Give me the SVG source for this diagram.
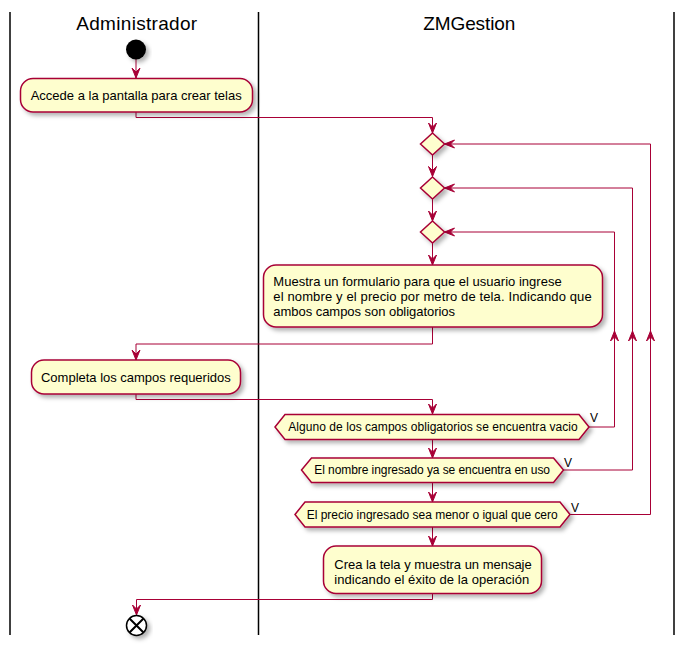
<svg xmlns="http://www.w3.org/2000/svg" width="685" height="645" viewBox="0 0 685 645">
<defs>
<filter id="sh" x="-20%" y="-20%" width="150%" height="160%">
<feDropShadow dx="3" dy="3" stdDeviation="2" flood-color="#000" flood-opacity="0.3"/>
</filter>
<style>
.lane{stroke:#000;stroke-width:1.5;fill:none}
.title{font-family:"Liberation Sans",Arial,sans-serif;font-size:19px;fill:#000;text-anchor:middle}
.box{fill:#FEFECE;stroke:#A80036;stroke-width:1.5;filter:url(#sh)}
.t{font-family:"Liberation Sans",Arial,sans-serif;font-size:13px;fill:#000}
.ht{font-family:"Liberation Sans",Arial,sans-serif;font-size:12px;fill:#000;text-anchor:middle}
.v{font-family:"Liberation Sans",Arial,sans-serif;font-size:12px;fill:#000}
.ln{stroke:#A80036;stroke-width:1;fill:none}
.ah{fill:#A80036;stroke:#A80036;stroke-width:1}
</style>
</defs>
<rect width="685" height="645" fill="#fff"/>
<g id="lanes">
<line class="lane" x1="10" y1="12" x2="10" y2="635"/>
<line class="lane" x1="258.5" y1="12" x2="258.5" y2="635"/>
<line class="lane" x1="674" y1="12" x2="674" y2="635"/>
<text class="title" x="136.7" y="30" textLength="121">Administrador</text>
<text class="title" x="469.3" y="30" textLength="92">ZMGestion</text>
</g>
<g id="connectors">
<path class="ln" d="M136,59 V78"/>
<path class="ah" d="M136,78 L132,68 L136,72 L140,68 Z"/>
<path class="ln" d="M136,112 V117.5 H432.5 V133"/>
<path class="ah" d="M432.5,133 L428.5,123 L432.5,127 L436.5,123 Z"/>
<path class="ln" d="M432.5,155 V176.5"/>
<path class="ah" d="M432.5,176.5 L428.5,166.5 L432.5,170.5 L436.5,166.5 Z"/>
<path class="ln" d="M432.5,199 V221"/>
<path class="ah" d="M432.5,221 L428.5,211 L432.5,215 L436.5,211 Z"/>
<path class="ln" d="M432.5,243 V265"/>
<path class="ah" d="M432.5,265 L428.5,255 L432.5,259 L436.5,255 Z"/>
<path class="ln" d="M432.5,327 V344 H136 V360"/>
<path class="ah" d="M136,360 L132,350 L136,354 L140,350 Z"/>
<path class="ln" d="M136,394 V399.5 H432.5 V414"/>
<path class="ah" d="M432.5,414 L428.5,404 L432.5,408 L436.5,404 Z"/>
<path class="ln" d="M432.5,439.5 V458"/>
<path class="ah" d="M432.5,458 L428.5,448 L432.5,452 L436.5,448 Z"/>
<path class="ln" d="M432.5,482.5 V502"/>
<path class="ah" d="M432.5,502 L428.5,492 L432.5,496 L436.5,492 Z"/>
<path class="ln" d="M432.5,527 V546"/>
<path class="ah" d="M432.5,546 L428.5,536 L432.5,540 L436.5,536 Z"/>
<path class="ln" d="M432.5,593.5 V599.5 H136.5 V615"/>
<path class="ah" d="M136.5,615 L132.5,605 L136.5,609 L140.5,605 Z"/>
<path class="ln" d="M589,427 H614.5 V232 H444.5"/>
<path class="ah" d="M444.5,232 L454.5,228 L450.5,232 L454.5,236 Z"/>
<path class="ah" d="M614.5,331 L610.5,341 L614.5,337 L618.5,341 Z"/>
<path class="ln" d="M563.5,470 H632.5 V188 H444.5"/>
<path class="ah" d="M444.5,188 L454.5,184 L450.5,188 L454.5,192 Z"/>
<path class="ah" d="M632.5,331 L628.5,341 L632.5,337 L636.5,341 Z"/>
<path class="ln" d="M570,514.5 H650.5 V144 H444.5"/>
<path class="ah" d="M444.5,144 L454.5,140 L450.5,144 L454.5,148 Z"/>
<path class="ah" d="M650.5,331 L646.5,341 L650.5,337 L654.5,341 Z"/>
<text class="v" x="590" y="422">V</text>
<text class="v" x="564" y="466.5">V</text>
<text class="v" x="571" y="511.5">V</text>
</g>
<g id="start">
<circle cx="136" cy="49.5" r="10" fill="#000" filter="url(#sh)"/>
</g>
<g id="accede">
<rect class="box" x="20.5" y="78.5" width="232" height="33.5" rx="12.5"/>
<text class="t" x="30.7" y="100" textLength="211">Accede a la pantalla para crear telas</text>
</g>
<g id="merge1">
<polygon class="box" points="432.5,133 444.5,144 432.5,155 420.5,144"/>
</g>
<g id="merge2">
<polygon class="box" points="432.5,177 444.5,188 432.5,199 420.5,188"/>
</g>
<g id="merge3">
<polygon class="box" points="432.5,221 444.5,232 432.5,243 420.5,232"/>
</g>
<g id="muestra">
<rect class="box" x="263.5" y="265" width="339" height="62" rx="12.5"/>
<text class="t" x="273.3" y="285.5" textLength="288.4">Muestra un formulario para que el usuario ingrese</text>
<text class="t" x="273.3" y="300.7" textLength="318.4">el nombre y el precio por metro de tela. Indicando que</text>
<text class="t" x="273.3" y="315.9" textLength="181.7">ambos campos son obligatorios</text>
</g>
<g id="completa">
<rect class="box" x="31.5" y="360" width="209" height="34" rx="12.5"/>
<text class="t" x="41" y="381.7" textLength="189.7">Completa los campos requeridos</text>
</g>
<g id="cond1">
<polygon class="box" points="275,427 285,414.5 579,414.5 589,427 579,439.5 285,439.5"/>
<text class="ht" x="433" y="431.2" textLength="289.4">Alguno de los campos obligatorios se encuentra vacio</text>
</g>
<g id="cond2">
<polygon class="box" points="301.5,470 311.5,458 553.5,458 563.5,470 553.5,482.5 311.5,482.5"/>
<text class="ht" x="432.2" y="474.4" textLength="235.7">El nombre ingresado ya se encuentra en uso</text>
</g>
<g id="cond3">
<polygon class="box" points="295,514.5 305,502 560,502 570,514.5 560,527 305,527"/>
<text class="ht" x="432.2" y="518.6" textLength="251">El precio ingresado sea menor o igual que cero</text>
</g>
<g id="crea">
<rect class="box" x="323.5" y="546" width="218" height="47.5" rx="12.5"/>
<text class="t" x="334.3" y="568.5" textLength="197.4">Crea la tela y muestra un mensaje</text>
<text class="t" x="334.3" y="583.5" textLength="195">indicando el éxito de la operación</text>
</g>
<g id="end">
<circle cx="136.5" cy="625.5" r="10" fill="#fff" stroke="#000" stroke-width="1.5" filter="url(#sh)"/>
<path d="M129.5,618.5 L143.5,632.5 M143.5,618.5 L129.5,632.5" stroke="#000" stroke-width="2"/>
</g>
</svg>
